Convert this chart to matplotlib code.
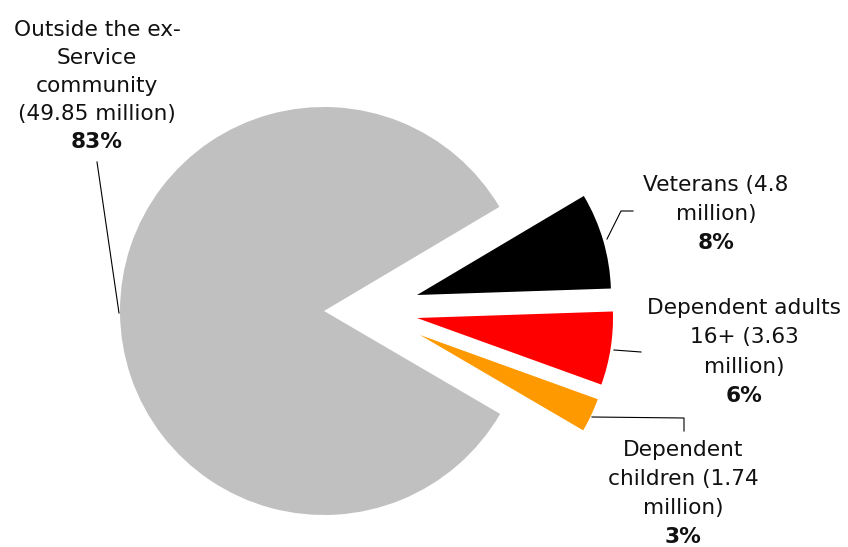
import matplotlib.pyplot as plt

# Share of adult population (millions)
categories = ["Outside the ex-Service community", "Veterans", "Dependent adults 16+", "Dependent children"]
values = [49.85, 4.8, 3.63, 1.74]
pct_labels = ["83%", "8%", "6%", "3%"]
name_labels = [
    "Outside the ex-\nService\ncommunity\n(49.85 million)",
    "Veterans (4.8\nmillion)",
    "Dependent adults\n16+ (3.63\nmillion)",
    "Dependent\nchildren (1.74\nmillion)",
]
colors = ["#C0C0C0", "#000000", "#FF0000", "#FF9900"]

W, H = 848, 547
fig = plt.figure(figsize=(W / 100, H / 100), dpi=100)
ax = fig.add_axes([0, 0, 1, 1])

cx, cy, R = 324, H - 311, 204
wedges, _ = ax.pie(values, colors=colors, startangle=-30.3, counterclock=False,
                   center=(cx, cy), radius=R, wedgeprops=dict(linewidth=0))

# pulled-out slices (offset in pixels, y up, and radius)
offsets = [None, (93, 16, 194), (93, -7, 196), (96, -24, 189)]
for w, off in zip(wedges, offsets):
    if off is None:
        continue
    w.set_center((cx + off[0], cy + off[1]))
    w.set_radius(off[2])

ax.set_xlim(0, W)
ax.set_ylim(0, H)
ax.set_aspect("equal")
ax.axis("off")

# label blocks: (center x, first line center y, line step) in pixels from top
label_pos = [(97, 30, 28), (716, 185, 29), (744, 308, 29.5), (683, 450, 29)]
fs = 15.6
for name, pct, (x, y0, step) in zip(name_labels, pct_labels, label_pos):
    lines = name.split("\n")
    for i, line in enumerate(lines):
        ax.text(x, H - (y0 + i * step), line, ha="center", va="center",
                fontsize=fs, color="#111111")
    ax.text(x, H - (y0 + len(lines) * step), pct, ha="center", va="center",
            fontsize=fs, fontweight="bold", color="#111111")

# leader lines (pixels from top)
leaders = [
    [(97, 162), (119, 313)],
    [(607, 239), (621, 211), (633, 211)],
    [(614, 350), (641, 352)],
    [(592, 417), (684, 418), (684, 431)],
]
for pts in leaders:
    xs = [p[0] for p in pts]
    ys = [H - p[1] for p in pts]
    ax.plot(xs, ys, color="black", linewidth=0.8)

fig.savefig("out.png", dpi=100)
